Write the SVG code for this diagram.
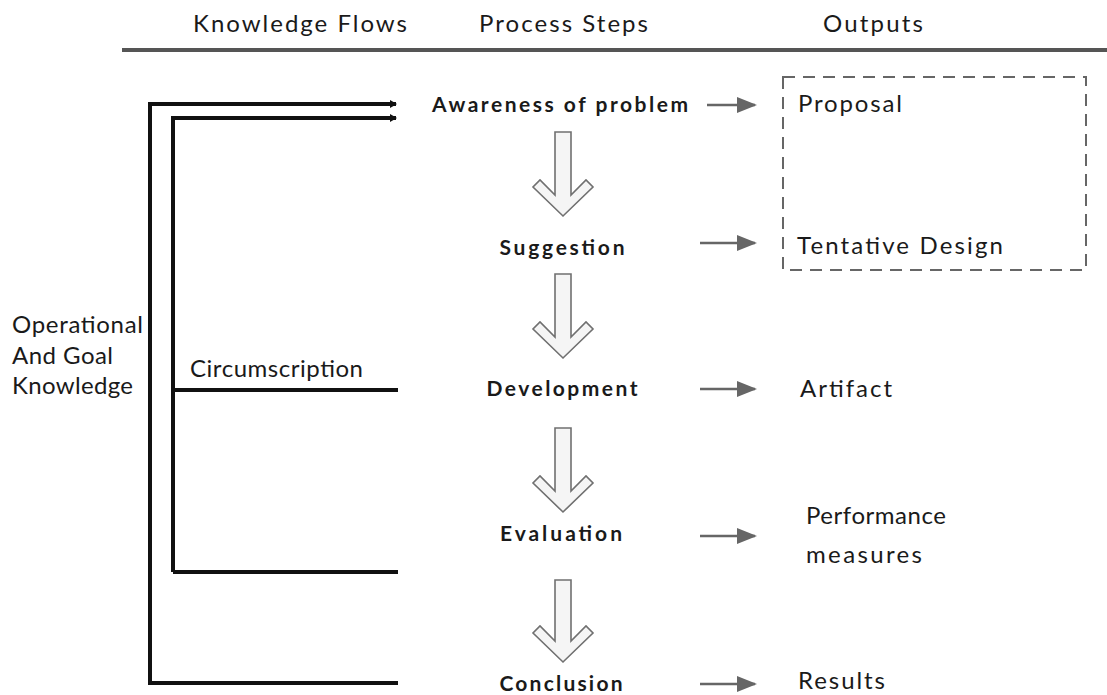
<svg xmlns="http://www.w3.org/2000/svg" width="1107" height="695" viewBox="0 0 1107 695">
<style>
text{font-family:Lato,"Open Sans","Liberation Sans",sans-serif;fill:#1a1a1a}
.t{font-size:24px}
.b{font-size:21px;font-weight:bold;text-anchor:middle}
.k{fill:none;stroke:#111;stroke-width:4}
.o{stroke:#666;stroke-width:2.5;fill:none}
.h{fill:#f5f5f5;stroke:#707070;stroke-width:1.6}
</style>
<defs>
<marker id="ka" markerWidth="8" markerHeight="8" refX="6" refY="4" orient="auto" markerUnits="userSpaceOnUse"><path d="M0,0 L7,4 L0,8 Z" fill="#111"/></marker>
<marker id="ga" markerWidth="20" markerHeight="16" refX="18" refY="8" orient="auto" markerUnits="userSpaceOnUse"><path d="M0,0 L20,8 L0,16 Z" fill="#666"/></marker>
</defs>
<g id="header">
<text class="t" x="193" y="32" textLength="214">Knowledge Flows</text>
<text class="t" x="479" y="32" textLength="169">Process Steps</text>
<text class="t" x="823" y="32" textLength="100">Outputs</text>
<line x1="122" y1="50" x2="1107" y2="50" stroke="#555" stroke-width="4"/>
</g>
<g id="connectors">
<polyline class="k" points="150,683 150,104 396,104" marker-end="url(#ka)"/>
<polyline class="k" points="173,572 173,118 396,118" marker-end="url(#ka)"/>
<line class="k" x1="173" y1="390" x2="398" y2="390"/>
<line class="k" x1="173" y1="572" x2="398" y2="572"/>
<line class="k" x1="148" y1="683" x2="398" y2="683"/>
<line class="o" x1="707" y1="105" x2="755" y2="105" marker-end="url(#ga)"/>
<line class="o" x1="700" y1="243" x2="755" y2="243" marker-end="url(#ga)"/>
<line class="o" x1="700" y1="389" x2="755" y2="389" marker-end="url(#ga)"/>
<line class="o" x1="700" y1="536" x2="755" y2="536" marker-end="url(#ga)"/>
<line class="o" x1="700" y1="684" x2="755" y2="684" marker-end="url(#ga)"/>
<g id="flow-arrows">
<polygon class="h" points="555,132 571,132 571,195 586,180 593,187 563,216 533,187 540,180 555,195"/>
<polygon class="h" points="555,274 571,274 571,337 586,322 593,329 563,358 533,329 540,322 555,337"/>
<polygon class="h" points="555,428 571,428 571,491 586,476 593,483 563,512 533,483 540,476 555,491"/>
<polygon class="h" points="555,580 571,580 571,641 586,626 593,633 563,662 533,633 540,626 555,641"/>
</g>
</g>
<g id="knowledge">
<text class="t" x="12" y="333" textLength="131">Operational</text>
<text class="t" x="12" y="364" textLength="101">And Goal</text>
<text class="t" x="12" y="394" textLength="121">Knowledge</text>
</g>
<g id="circumscription"><text class="t" x="190" y="377" textLength="173">Circumscription</text></g>
<g id="awareness"><text class="b" x="560" y="112" textLength="256">Awareness of problem</text></g>
<g id="suggestion"><text class="b" x="562" y="255" textLength="125">Suggestion</text></g>
<g id="development"><text class="b" x="562" y="396" textLength="151">Development</text></g>
<g id="evaluation"><text class="b" x="561" y="541" textLength="122">Evaluation</text></g>
<g id="conclusion"><text class="b" x="561" y="691" textLength="123">Conclusion</text></g>
<g id="outputs-box"><rect x="783" y="77" width="303" height="193" fill="none" stroke="#666" stroke-width="2" stroke-dasharray="12,8"/></g>
<g id="proposal"><text class="t" x="798" y="112" textLength="104">Proposal</text></g>
<g id="tentative"><text class="t" x="797" y="254" textLength="206">Tentative Design</text></g>
<g id="artifact"><text class="t" x="800" y="397" textLength="92">Artifact</text></g>
<g id="performance"><text class="t" x="806" y="524" textLength="140">Performance</text><text class="t" x="806" y="563" textLength="116">measures</text></g>
<g id="results"><text class="t" x="798" y="689" textLength="87">Results</text></g>
</svg>
